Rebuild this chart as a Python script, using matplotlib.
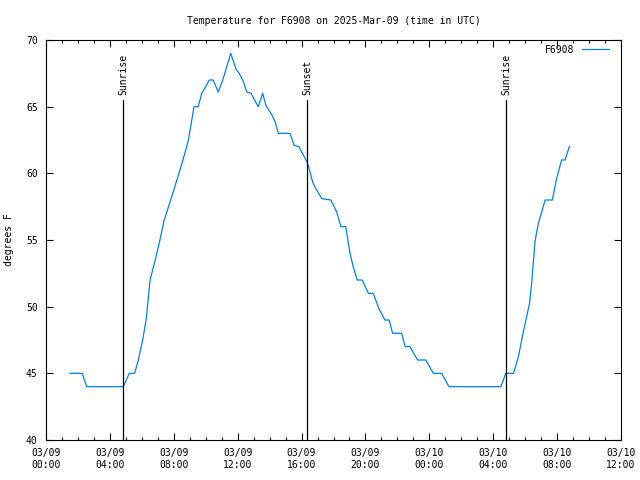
import numpy as np
import pandas as pd
import matplotlib
matplotlib.use("Agg")
import matplotlib.pyplot as plt
import matplotlib.dates as mdates

# readings (UTC) and temperature in F
times = [
    "2025-03-09 01:30", "2025-03-09 02:16", "2025-03-09 02:33", "2025-03-09 04:50",
    "2025-03-09 05:13", "2025-03-09 05:33", "2025-03-09 05:47", "2025-03-09 06:03",
    "2025-03-09 06:16", "2025-03-09 06:31", "2025-03-09 06:49", "2025-03-09 07:08",
    "2025-03-09 07:24", "2025-03-09 07:58", "2025-03-09 08:36", "2025-03-09 08:55",
    "2025-03-09 09:16", "2025-03-09 09:32", "2025-03-09 09:45", "2025-03-09 10:00",
    "2025-03-09 10:13", "2025-03-09 10:28", "2025-03-09 10:47", "2025-03-09 11:04",
    "2025-03-09 11:34", "2025-03-09 11:54", "2025-03-09 12:06", "2025-03-09 12:21",
    "2025-03-09 12:34", "2025-03-09 12:50", "2025-03-09 13:17", "2025-03-09 13:34",
    "2025-03-09 13:46", "2025-03-09 14:08", "2025-03-09 14:20", "2025-03-09 14:33",
    "2025-03-09 15:17", "2025-03-09 15:32", "2025-03-09 15:50", "2025-03-09 16:22",
    "2025-03-09 16:44", "2025-03-09 17:16", "2025-03-09 17:50", "2025-03-09 18:12",
    "2025-03-09 18:28", "2025-03-09 18:46", "2025-03-09 19:02", "2025-03-09 19:14",
    "2025-03-09 19:29", "2025-03-09 19:48", "2025-03-09 20:11", "2025-03-09 20:29",
    "2025-03-09 20:52", "2025-03-09 21:13", "2025-03-09 21:29", "2025-03-09 21:42",
    "2025-03-09 22:16", "2025-03-09 22:29", "2025-03-09 22:47", "2025-03-09 23:16",
    "2025-03-09 23:47", "2025-03-10 00:15", "2025-03-10 00:46", "2025-03-10 01:14",
    "2025-03-10 04:29", "2025-03-10 04:47", "2025-03-10 05:16", "2025-03-10 05:34",
    "2025-03-10 05:53", "2025-03-10 06:16", "2025-03-10 06:25", "2025-03-10 06:37",
    "2025-03-10 06:49", "2025-03-10 07:02", "2025-03-10 07:15", "2025-03-10 07:42",
    "2025-03-10 07:58", "2025-03-10 08:17", "2025-03-10 08:30", "2025-03-10 08:46",
]
temps = [
    45, 45, 44, 44,
    45, 45, 46, 47.5,
    49, 52, 53.4, 55,
    56.5, 58.6, 61.1, 62.5,
    65, 65, 66, 66.5,
    67, 67, 66.1, 67,
    69, 67.8, 67.5, 66.9,
    66.1, 66, 65, 66,
    65.1, 64.4, 63.9, 63,
    63, 62.1, 62, 60.8,
    59.2, 58.1, 58, 57.1,
    56, 56, 54, 53,
    52, 52, 51, 51,
    49.8, 49, 49, 48,
    48, 47, 47, 46,
    46, 45, 45, 44,
    44, 45, 45, 46.2,
    48.1, 50.2, 51.9, 54.9,
    56.2, 57.1, 58, 58,
    59.6, 61, 61, 62,
]

events = ["Sunrise", "Sunset", "Sunrise"]
event_times = ["2025-03-09 04:50", "2025-03-09 16:20", "2025-03-10 04:48"]

t = pd.to_datetime(times)
te = pd.to_datetime(event_times)

mono = "DejaVu Sans Mono"
fs = 7

fig = plt.figure(figsize=(6.4, 4.8), dpi=100)
ax = fig.add_axes([46 / 640, 1 - 440 / 480, 575 / 640, 400 / 480])

ax.plot(t, temps, color="#0080ff", lw=0.9, label="F6908")

for name, x in zip(events, te):
    ax.plot([x, x], [40, 65.5], color="black", lw=0.9)
    ax.text(x, 65.9, name, rotation=90, ha="center", va="bottom",
            fontsize=fs, family=mono)

ax.set_xlim(pd.Timestamp("2025-03-09 00:00"), pd.Timestamp("2025-03-10 12:00"))
ax.set_ylim(40, 70)
ax.set_yticks(np.arange(40, 71, 5))
ax.xaxis.set_major_locator(mdates.HourLocator(interval=4))
ax.xaxis.set_minor_locator(mdates.HourLocator(interval=1))
ax.xaxis.set_major_formatter(mdates.DateFormatter("%m/%d\n%H:%M"))

ax.tick_params(which="both", direction="in", top=True, right=True,
               labelsize=fs, width=0.8)
ax.tick_params(which="major", length=5, pad=6)
ax.tick_params(which="minor", length=2.5)
for lab in ax.get_xticklabels() + ax.get_yticklabels():
    lab.set_family(mono)
for s in ax.spines.values():
    s.set_linewidth(0.8)

ax.set_title("Temperature for F6908 on 2025-Mar-09 (time in UTC)",
             fontsize=fs, family=mono, pad=11.5)
ax.set_ylabel("degrees F", fontsize=fs, family=mono)
ax.yaxis.set_label_coords(-32 / 575, 0.5)

leg = ax.legend(loc="upper right", frameon=False, markerfirst=False,
                prop={"family": mono, "size": fs}, handlelength=2.8,
                borderaxespad=0, bbox_to_anchor=(1 - 8 / 575, 1 - 1 / 400))

fig.savefig("out.png", dpi=100)
